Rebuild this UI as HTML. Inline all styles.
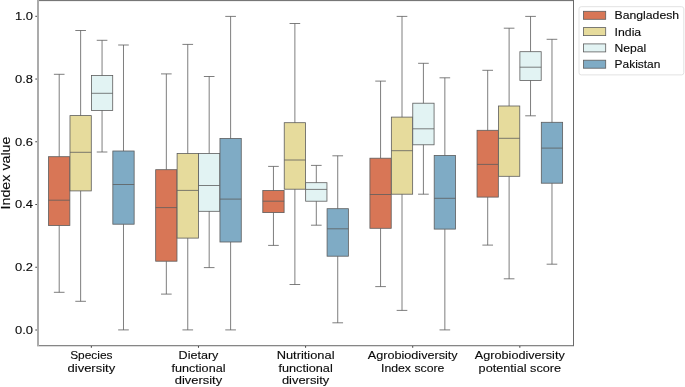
<!DOCTYPE html>
<html><head><meta charset="utf-8"><style>
html,body{margin:0;padding:0;background:#fff;}
svg{will-change:transform;}
svg{display:block;}
text{font-family:"Liberation Sans",sans-serif;font-size:11.5px;fill:#0a0a0a;stroke:#0a0a0a;stroke-width:0.12px;}
</style></head><body>
<svg width="685" height="387" viewBox="0 0 685 387">
<rect x="0" y="0" width="685" height="387" fill="#fff"/>
<rect x="48.56" y="156.7" width="21.3" height="68.8" fill="#d87656" stroke="#5d5d5d" stroke-width="0.8"/>
<path d="M59.21 156.7V74.3M53.89 74.3H64.54M59.21 225.5V292.3M53.89 292.3H64.54M48.56 200.2H69.86" stroke="#5d5d5d" stroke-width="0.8" fill="none"/>
<rect x="69.99" y="115.6" width="21.3" height="75.3" fill="#e6db9c" stroke="#5d5d5d" stroke-width="0.8"/>
<path d="M80.64 115.6V30.5M75.31 30.5H85.96M80.64 190.9V301.3M75.31 301.3H85.96M69.99 152.3H91.29" stroke="#5d5d5d" stroke-width="0.8" fill="none"/>
<rect x="91.41" y="75.5" width="21.3" height="34.9" fill="#e2f3f3" stroke="#5d5d5d" stroke-width="0.8"/>
<path d="M102.06 75.5V40.3M96.74 40.3H107.39M102.06 110.4V152M96.74 152H107.39M91.41 93.3H112.71" stroke="#5d5d5d" stroke-width="0.8" fill="none"/>
<rect x="112.84" y="151" width="21.3" height="73.2" fill="#7fabc5" stroke="#5d5d5d" stroke-width="0.8"/>
<path d="M123.49 151V45M118.16 45H128.81M123.49 224.2V329.9M118.16 329.9H128.81M112.84 184.5H134.14" stroke="#5d5d5d" stroke-width="0.8" fill="none"/>
<rect x="155.68" y="169.7" width="21.3" height="91.5" fill="#d87656" stroke="#5d5d5d" stroke-width="0.8"/>
<path d="M166.33 169.7V73.9M161.01 73.9H171.66M166.33 261.2V294.1M161.01 294.1H171.66M155.68 207.6H176.98" stroke="#5d5d5d" stroke-width="0.8" fill="none"/>
<rect x="177.11" y="153.5" width="21.3" height="84.6" fill="#e6db9c" stroke="#5d5d5d" stroke-width="0.8"/>
<path d="M187.76 153.5V44.4M182.43 44.4H193.08M187.76 238.1V329.9M182.43 329.9H193.08M177.11 190.4H198.41" stroke="#5d5d5d" stroke-width="0.8" fill="none"/>
<rect x="198.53" y="153.5" width="21.3" height="57.8" fill="#e2f3f3" stroke="#5d5d5d" stroke-width="0.8"/>
<path d="M209.18 153.5V76.5M203.86 76.5H214.51M209.18 211.3V267.6M203.86 267.6H214.51M198.53 185.5H219.83" stroke="#5d5d5d" stroke-width="0.8" fill="none"/>
<rect x="219.96" y="138.5" width="21.3" height="103.5" fill="#7fabc5" stroke="#5d5d5d" stroke-width="0.8"/>
<path d="M230.61 138.5V16.4M225.28 16.4H235.93M230.61 242V329.9M225.28 329.9H235.93M219.96 199.1H241.26" stroke="#5d5d5d" stroke-width="0.8" fill="none"/>
<rect x="262.8" y="190.5" width="21.3" height="22.1" fill="#d87656" stroke="#5d5d5d" stroke-width="0.8"/>
<path d="M273.45 190.5V166.4M268.13 166.4H278.78M273.45 212.6V245.4M268.13 245.4H278.78M262.8 201.2H284.1" stroke="#5d5d5d" stroke-width="0.8" fill="none"/>
<rect x="284.23" y="122.7" width="21.3" height="66.5" fill="#e6db9c" stroke="#5d5d5d" stroke-width="0.8"/>
<path d="M294.88 122.7V23.5M289.55 23.5H300.2M294.88 189.2V284.5M289.55 284.5H300.2M284.23 160H305.53" stroke="#5d5d5d" stroke-width="0.8" fill="none"/>
<rect x="305.65" y="182.7" width="21.3" height="18.5" fill="#e2f3f3" stroke="#5d5d5d" stroke-width="0.8"/>
<path d="M316.3 182.7V165.4M310.98 165.4H321.63M316.3 201.2V225.2M310.98 225.2H321.63M305.65 189.4H326.95" stroke="#5d5d5d" stroke-width="0.8" fill="none"/>
<rect x="327.08" y="208.7" width="21.3" height="47.5" fill="#7fabc5" stroke="#5d5d5d" stroke-width="0.8"/>
<path d="M337.73 208.7V155.8M332.4 155.8H343.05M337.73 256.2V322.8M332.4 322.8H343.05M327.08 228.8H348.38" stroke="#5d5d5d" stroke-width="0.8" fill="none"/>
<rect x="369.92" y="158.2" width="21.3" height="70.1" fill="#d87656" stroke="#5d5d5d" stroke-width="0.8"/>
<path d="M380.57 158.2V81.1M375.25 81.1H385.9M380.57 228.3V286.6M375.25 286.6H385.9M369.92 194.5H391.22" stroke="#5d5d5d" stroke-width="0.8" fill="none"/>
<rect x="391.35" y="117.1" width="21.3" height="77.1" fill="#e6db9c" stroke="#5d5d5d" stroke-width="0.8"/>
<path d="M402 117.1V16.4M396.67 16.4H407.32M402 194.2V310.4M396.67 310.4H407.32M391.35 150.7H412.65" stroke="#5d5d5d" stroke-width="0.8" fill="none"/>
<rect x="412.77" y="103.2" width="21.3" height="41.6" fill="#e2f3f3" stroke="#5d5d5d" stroke-width="0.8"/>
<path d="M423.42 103.2V63.3M418.1 63.3H428.75M423.42 144.8V194.2M418.1 194.2H428.75M412.77 128.8H434.07" stroke="#5d5d5d" stroke-width="0.8" fill="none"/>
<rect x="434.2" y="155.4" width="21.3" height="73.7" fill="#7fabc5" stroke="#5d5d5d" stroke-width="0.8"/>
<path d="M444.85 155.4V77.8M439.52 77.8H450.17M444.85 229.1V329.9M439.52 329.9H450.17M434.2 198.3H455.5" stroke="#5d5d5d" stroke-width="0.8" fill="none"/>
<rect x="477.04" y="130.3" width="21.3" height="66.8" fill="#d87656" stroke="#5d5d5d" stroke-width="0.8"/>
<path d="M487.69 130.3V70.3M482.37 70.3H493.02M487.69 197.1V245.1M482.37 245.1H493.02M477.04 164.4H498.34" stroke="#5d5d5d" stroke-width="0.8" fill="none"/>
<rect x="498.47" y="106" width="21.3" height="70.3" fill="#e6db9c" stroke="#5d5d5d" stroke-width="0.8"/>
<path d="M509.12 106V28.2M503.79 28.2H514.44M509.12 176.3V278.8M503.79 278.8H514.44M498.47 138.3H519.77" stroke="#5d5d5d" stroke-width="0.8" fill="none"/>
<rect x="519.89" y="51.7" width="21.3" height="28.7" fill="#e2f3f3" stroke="#5d5d5d" stroke-width="0.8"/>
<path d="M530.54 51.7V16.4M525.22 16.4H535.87M530.54 80.4V115.8M525.22 115.8H535.87M519.89 67.2H541.19" stroke="#5d5d5d" stroke-width="0.8" fill="none"/>
<rect x="541.32" y="122.3" width="21.3" height="60.9" fill="#7fabc5" stroke="#5d5d5d" stroke-width="0.8"/>
<path d="M551.97 122.3V39.3M546.64 39.3H557.29M551.97 183.2V264.2M546.64 264.2H557.29M541.32 148.1H562.62" stroke="#5d5d5d" stroke-width="0.8" fill="none"/>
<rect x="37" y="0" width="537" height="1" fill="#777"/>
<rect x="39" y="1" width="534" height="1" fill="#f0f0f0"/>
<rect x="37" y="345" width="537" height="1" fill="#868686"/>
<rect x="37" y="346" width="537" height="1" fill="#dcdcdc"/>
<rect x="573" y="0" width="1" height="346" fill="#6a6a6a"/>
<rect x="37" y="0" width="2" height="346" fill="#ababab"/>
<path d="M35.3 330H37" stroke="#333" stroke-width="0.9"/>
<text x="33.0" y="333.9" text-anchor="end" textLength="18" lengthAdjust="spacingAndGlyphs">0.0</text>
<path d="M35.3 267.26H37" stroke="#333" stroke-width="0.9"/>
<text x="33.0" y="271.16" text-anchor="end" textLength="18" lengthAdjust="spacingAndGlyphs">0.2</text>
<path d="M35.3 204.52H37" stroke="#333" stroke-width="0.9"/>
<text x="33.0" y="208.42" text-anchor="end" textLength="18" lengthAdjust="spacingAndGlyphs">0.4</text>
<path d="M35.3 141.78H37" stroke="#333" stroke-width="0.9"/>
<text x="33.0" y="145.68" text-anchor="end" textLength="18" lengthAdjust="spacingAndGlyphs">0.6</text>
<path d="M35.3 79.04H37" stroke="#333" stroke-width="0.9"/>
<text x="33.0" y="82.94" text-anchor="end" textLength="18" lengthAdjust="spacingAndGlyphs">0.8</text>
<path d="M35.3 16.3H37" stroke="#333" stroke-width="0.9"/>
<text x="33.0" y="20.2" text-anchor="end" textLength="18" lengthAdjust="spacingAndGlyphs">1.0</text>
<path d="M91.35 346V347.8" stroke="#333" stroke-width="0.9"/>
<text x="91.35" y="359.3" text-anchor="middle" textLength="42.4" lengthAdjust="spacingAndGlyphs">Species</text>
<text x="91.35" y="371.55" text-anchor="middle" textLength="47.6" lengthAdjust="spacingAndGlyphs">diversity</text>
<path d="M198.47 346V347.8" stroke="#333" stroke-width="0.9"/>
<text x="198.47" y="359.3" text-anchor="middle" textLength="39.8" lengthAdjust="spacingAndGlyphs">Dietary</text>
<text x="198.47" y="371.55" text-anchor="middle" textLength="54.0" lengthAdjust="spacingAndGlyphs">functional</text>
<text x="198.47" y="383.8" text-anchor="middle" textLength="47.3" lengthAdjust="spacingAndGlyphs">diversity</text>
<path d="M305.59 346V347.8" stroke="#333" stroke-width="0.9"/>
<text x="305.59" y="359.3" text-anchor="middle" textLength="57.8" lengthAdjust="spacingAndGlyphs">Nutritional</text>
<text x="305.59" y="371.55" text-anchor="middle" textLength="54.3" lengthAdjust="spacingAndGlyphs">functional</text>
<text x="305.59" y="383.8" text-anchor="middle" textLength="47.3" lengthAdjust="spacingAndGlyphs">diversity</text>
<path d="M412.71 346V347.8" stroke="#333" stroke-width="0.9"/>
<text x="412.71" y="359.3" text-anchor="middle" textLength="89.9" lengthAdjust="spacingAndGlyphs">Agrobiodiversity</text>
<text x="412.71" y="371.55" text-anchor="middle" textLength="63.4" lengthAdjust="spacingAndGlyphs">Index score</text>
<path d="M519.83 346V347.8" stroke="#333" stroke-width="0.9"/>
<text x="519.83" y="359.3" text-anchor="middle" textLength="89.9" lengthAdjust="spacingAndGlyphs">Agrobiodiversity</text>
<text x="519.83" y="371.55" text-anchor="middle" textLength="82.4" lengthAdjust="spacingAndGlyphs">potential score</text>
<text transform="translate(10.2 173) rotate(-90)" text-anchor="middle" textLength="73" lengthAdjust="spacingAndGlyphs" style="font-size:12.1px">Index value</text>
<rect x="579" y="6.7" width="104.8" height="68.2" rx="2.2" fill="#fff" fill-opacity="0.8" stroke="#e2e2e2" stroke-width="1"/>
<rect x="583.5" y="11.3" width="22.2" height="8" fill="#d87656" stroke="#5d5d5d" stroke-width="0.8"/>
<text x="614.6" y="19.4" textLength="64.5" lengthAdjust="spacingAndGlyphs">Bangladesh</text>
<rect x="583.5" y="27.6" width="22.2" height="8" fill="#e6db9c" stroke="#5d5d5d" stroke-width="0.8"/>
<text x="614.6" y="35.7" textLength="26.6" lengthAdjust="spacingAndGlyphs">India</text>
<rect x="583.5" y="43.9" width="22.2" height="8" fill="#e2f3f3" stroke="#5d5d5d" stroke-width="0.8"/>
<text x="614.6" y="52" textLength="31.7" lengthAdjust="spacingAndGlyphs">Nepal</text>
<rect x="583.5" y="60.2" width="22.2" height="8" fill="#7fabc5" stroke="#5d5d5d" stroke-width="0.8"/>
<text x="614.6" y="68.3" textLength="45.8" lengthAdjust="spacingAndGlyphs">Pakistan</text>
</svg>
</body></html>
